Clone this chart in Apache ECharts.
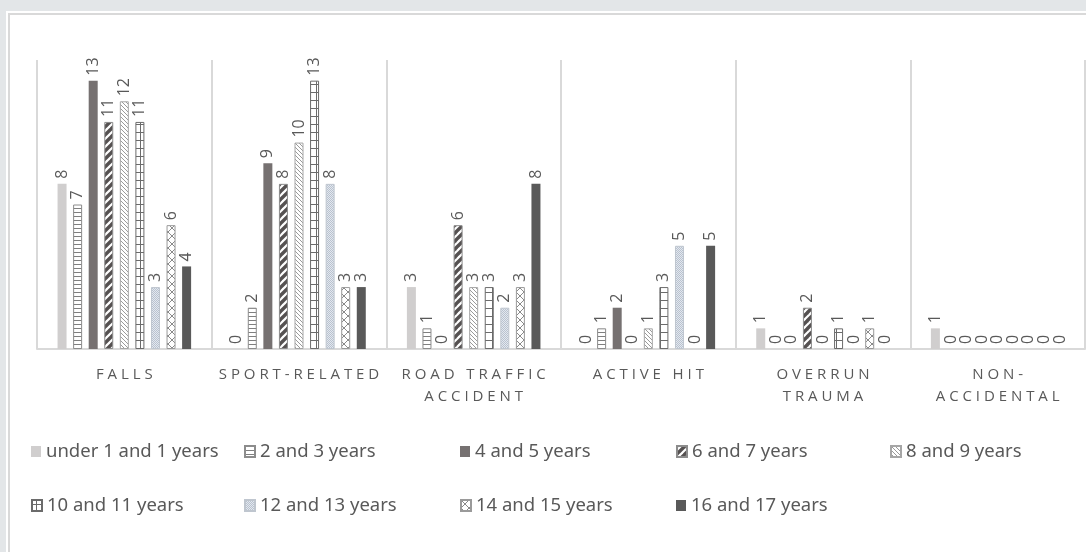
<!DOCTYPE html>
<html>
<head>
<meta charset="utf-8">
<script src="https://cdn.jsdelivr.net/npm/echarts@6/dist/echarts.min.js"></script>
<style>
  html, body { margin: 0; padding: 0; width: 1086px; height: 552px; overflow: hidden; background: #e3e6e8; }
  #panel { position: absolute; left: 6px; top: 11px; width: 1100px; height: 560px; background: #ffffff; }
  #frame { position: absolute; left: 8px; top: 13px; width: 1100px; height: 560px; border-left: 2px solid #d9d9d9; border-top: 2px solid #d9d9d9; box-sizing: border-box; }
  #chart { position: absolute; left: 0; top: 0; width: 1086px; height: 552px; }
</style>
</head>
<body>
<div id="panel"></div>
<div id="frame"></div>
<div id="chart"></div>
<script>
// Injury mechanism by age group (number of cases)
const categories = ['FALLS', 'SPORT-RELATED', 'ROAD TRAFFIC\nACCIDENT', 'ACTIVE HIT', 'OVERRUN\nTRAUMA', 'NON-\nACCIDENTAL'];
const ageGroups = ['under 1 and 1 years', '2 and 3 years', '4 and 5 years', '6 and 7 years', '8 and 9 years',
                   '10 and 11 years', '12 and 13 years', '14 and 15 years', '16 and 17 years'];

const under1    = [8, 0, 3, 0, 1, 1];
const age2to3   = [7, 2, 1, 1, 0, 0];
const age4to5   = [13, 9, 0, 2, 0, 0];
const age6to7   = [11, 8, 6, 0, 2, 0];
const age8to9   = [12, 10, 3, 1, 0, 0];
const age10to11 = [11, 13, 3, 3, 1, 0];
const age12to13 = [3, 8, 2, 5, 0, 0];
const age14to15 = [6, 3, 3, 0, 1, 0];
const age16to17 = [4, 3, 8, 5, 0, 0];

const seriesValues = [under1, age2to3, age4to5, age6to7, age8to9, age10to11, age12to13, age14to15, age16to17];

// Small tiled canvases used as fill patterns
function makeTile(w, h, draw) {
  const c = document.createElement('canvas');
  c.width = w; c.height = h;
  const ctx = c.getContext('2d');
  draw(ctx, w, h);
  return { image: c, repeat: 'repeat' };
}
const hLines = makeTile(4, 4, (ctx, w, h) => {
  ctx.fillStyle = '#ffffff'; ctx.fillRect(0, 0, w, h);
  ctx.fillStyle = '#7f7f7f'; ctx.fillRect(0, 0, w, 1);
});
const wideDiag = makeTile(8, 8, (ctx, w, h) => {
  ctx.fillStyle = '#ffffff'; ctx.fillRect(0, 0, w, h);
  ctx.strokeStyle = '#555151'; ctx.lineWidth = 3.4;
  for (let k = -1; k <= 1; k++) {
    ctx.beginPath(); ctx.moveTo(k * w - 1, h + 1); ctx.lineTo(k * w + w + 1, -1); ctx.stroke();
  }
});
const lightDiag = makeTile(4, 4, (ctx, w, h) => {
  ctx.fillStyle = '#ffffff'; ctx.fillRect(0, 0, w, h);
  ctx.strokeStyle = '#9a9a9a'; ctx.lineWidth = 1;
  for (let k = -1; k <= 1; k++) {
    ctx.beginPath(); ctx.moveTo(k * w - 1, -1); ctx.lineTo(k * w + w + 1, h + 1); ctx.stroke();
  }
});
const grid = makeTile(8, 8, (ctx, w, h) => {
  ctx.fillStyle = '#ffffff'; ctx.fillRect(0, 0, w, h);
  ctx.fillStyle = '#6b6b6b'; ctx.fillRect(0, 4, w, 1); ctx.fillRect(4, 0, 1, h);
});
const dotted = makeTile(2, 2, (ctx, w, h) => {
  ctx.fillStyle = '#e3e8ef'; ctx.fillRect(0, 0, w, h);
  ctx.fillStyle = '#b9c2cf'; ctx.fillRect(0, 0, 1, 1); ctx.fillRect(1, 1, 1, 1);
});
const crossHatch = makeTile(8, 8, (ctx, w, h) => {
  ctx.fillStyle = '#ffffff'; ctx.fillRect(0, 0, w, h);
  ctx.strokeStyle = '#8a8a8a'; ctx.lineWidth = 1;
  ctx.beginPath(); ctx.moveTo(0, 0); ctx.lineTo(w, h); ctx.stroke();
  ctx.beginPath(); ctx.moveTo(w, 0); ctx.lineTo(0, h); ctx.stroke();
});

const fills = [
  { color: '#d0cece' },
  { color: hLines, borderColor: '#8c8c8c', borderWidth: 1 },
  { color: '#767171' },
  { color: wideDiag, borderColor: '#8c8c8c', borderWidth: 1 },
  { color: lightDiag, borderColor: '#a6a6a6', borderWidth: 1 },
  { color: grid, borderColor: '#6b6b6b', borderWidth: 1 },
  { color: dotted, borderColor: '#bfc6cf', borderWidth: 1 },
  { color: crossHatch, borderColor: '#9a9a9a', borderWidth: 1 },
  { color: '#595959' }
];

const legendLeft = [31, 244, 460, 676, 890];
const legendTop = [442, 496];

// Spread the letters of the category names apart
function spaced(s) {
  return s.split('\n').map(line => line.split('').join(' ')).join('\n');
}

const chart = echarts.init(document.getElementById('chart'), null, { renderer: 'canvas' });
chart.setOption({
  backgroundColor: 'transparent',
  animation: false,
  grid: { left: 37, right: 1, top: 60, bottom: 203 },
  xAxis: {
    type: 'category',
    data: categories,
    axisLine: { lineStyle: { color: '#d9d9d9', width: 2 } },
    axisTick: { show: false },
    splitLine: { show: true, lineStyle: { color: '#d9d9d9', width: 2 } },
    axisLabel: {
      interval: 0,
      margin: 15,
      color: '#595959',
      fontFamily: 'Open Sans',
      fontSize: 15,
      lineHeight: 22,
      formatter: v => spaced(v)
    }
  },
  yAxis: {
    type: 'value', min: 0, max: 14, show: false,
    splitLine: { show: false }
  },
  legend: ageGroups.map((name, i) => ({
    data: [name],
    left: legendLeft[i % 5],
    top: legendTop[Math.floor(i / 5)],
    padding: 0,
    itemWidth: 10,
    itemHeight: 11,
    icon: 'rect',
    selectedMode: false,
    textStyle: { color: '#595959', fontSize: 18.5, fontFamily: 'Noto Sans' }
  })),
  series: ageGroups.map((name, i) => ({
    name: name,
    type: 'bar',
    // empty bars get no outline so nothing is drawn at the baseline
    data: seriesValues[i].map(v => v === 0 ? { value: v, itemStyle: { borderWidth: 0 } } : v),
    barWidth: 9,
    barGap: '73%',
    itemStyle: fills[i],
    label: {
      show: true,
      position: 'top',
      rotate: 90,
      align: 'left',
      verticalAlign: 'middle',
      distance: 5,
      color: '#595959',
      fontFamily: 'Open Sans',
      fontSize: 16
    }
  }))
});
</script>
</body>
</html>
